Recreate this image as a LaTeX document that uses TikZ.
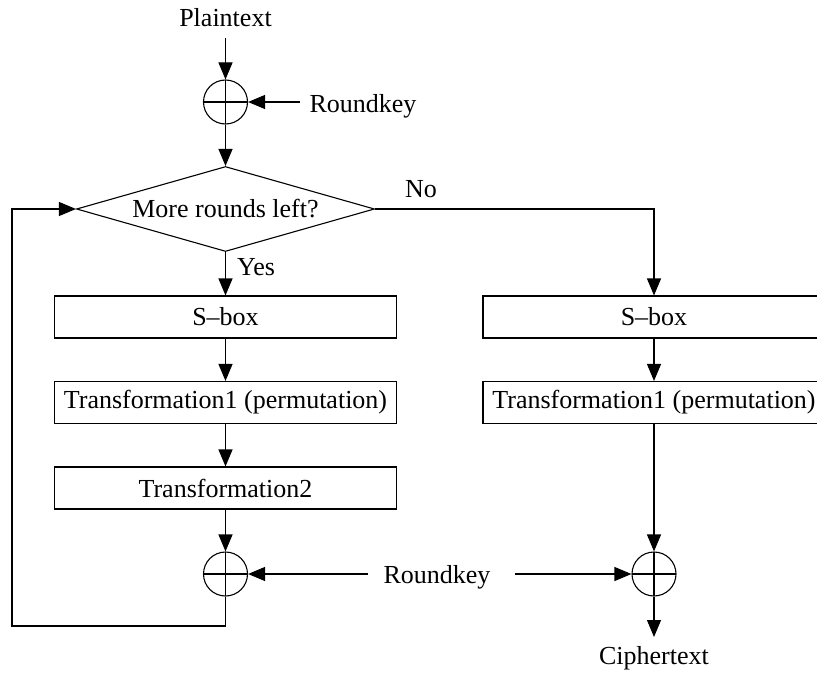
\documentclass[tikz,border=0pt]{standalone}
\usepackage{fontspec}
\setmainfont{Liberation Serif}
\usetikzlibrary{shapes.geometric,arrows.meta}
\begin{document}
\begin{tikzpicture}[x=1pt,y=-1pt,
  every node/.style={font=\fontsize{26}{30}\selectfont},
  lbl/.style={inner sep=0pt},
  stage/.style={draw,line width=1.1pt,minimum width=342pt,minimum height=42pt,inner sep=0pt},
  decide/.style={draw,diamond,aspect=3.5,line width=1.1pt,minimum width=298pt,minimum height=85pt,inner sep=0pt},
  xorop/.style={draw,circle,line width=1.1pt,minimum size=44pt,inner sep=0pt,
    path picture={\draw[line width=1.1pt]
      (path picture bounding box.north) -- (path picture bounding box.south)
      (path picture bounding box.west) -- (path picture bounding box.east);}},
  arr/.style={line width=1.1pt,-{Triangle[length=17pt,width=14pt]}},
  ln/.style={line width=1.1pt}]
\useasboundingbox (0,0) rectangle (817,677);

% inputs and first key addition
\node[lbl] (plain) at (225.5,18) {Plaintext};
\coordinate (pin) at (225.5,38);
\node[xorop] (x1) at (225.5,102) {};
\node[lbl] (rk1) at (363,106) {Roundkey};
\coordinate (rk1in) at (300,102);

% round decision
\node[decide] (d) at (225.5,209) {More rounds left?};
\node[lbl] (no) at (421,189) {No};
\node[lbl] (yes) at (256,267) {Yes};

% regular round
\node[stage] (sb1) at (225.5,317) {S\textendash box};
\node[stage] (tp1) at (225.5,402.5) {Transformation1 (permutation)};
\node[stage] (tr2) at (225.5,488) {Transformation2};
\node[xorop] (x2) at (225.5,574) {};

% final round
\node[stage] (sb2) at (654,317) {S\textendash box};
\node[stage] (tp2) at (654,402.5) {Transformation1 (permutation)};
\node[xorop] (x3) at (654,574) {};

% round key and output
\node[lbl] (rk2) at (437,577) {Roundkey};
\coordinate (rk2l) at (368,574);
\coordinate (rk2r) at (515,574);
\node[lbl] (cipher) at (654,658) {Ciphertext};
\coordinate (cout) at (654,637);

% connectors
\draw[arr] (pin) -- (x1.north);
\draw[arr] (rk1in) -- (x1.east);
\draw[arr] (x1.south) -- (d.north);
\draw[arr] (d.south) -- (sb1.north);
\draw[arr] (sb1.south) -- (tp1.north);
\draw[arr] (tp1.south) -- (tr2.north);
\draw[arr] (tr2.south) -- (x2.north);
\draw[arr] (rk2l) -- (x2.east);
\draw[arr] (x2.south) -- (225.5,626) -- (12,626) -- (12,209) -- (d.west);
\draw[arr] (d.east) -- (654,209) -- (sb2.north);
\draw[arr] (sb2.south) -- (tp2.north);
\draw[arr] (tp2.south) -- (x3.north);
\draw[arr] (rk2r) -- (x3.west);
\draw[arr] (x3.south) -- (cout);
\end{tikzpicture}
\end{document}
